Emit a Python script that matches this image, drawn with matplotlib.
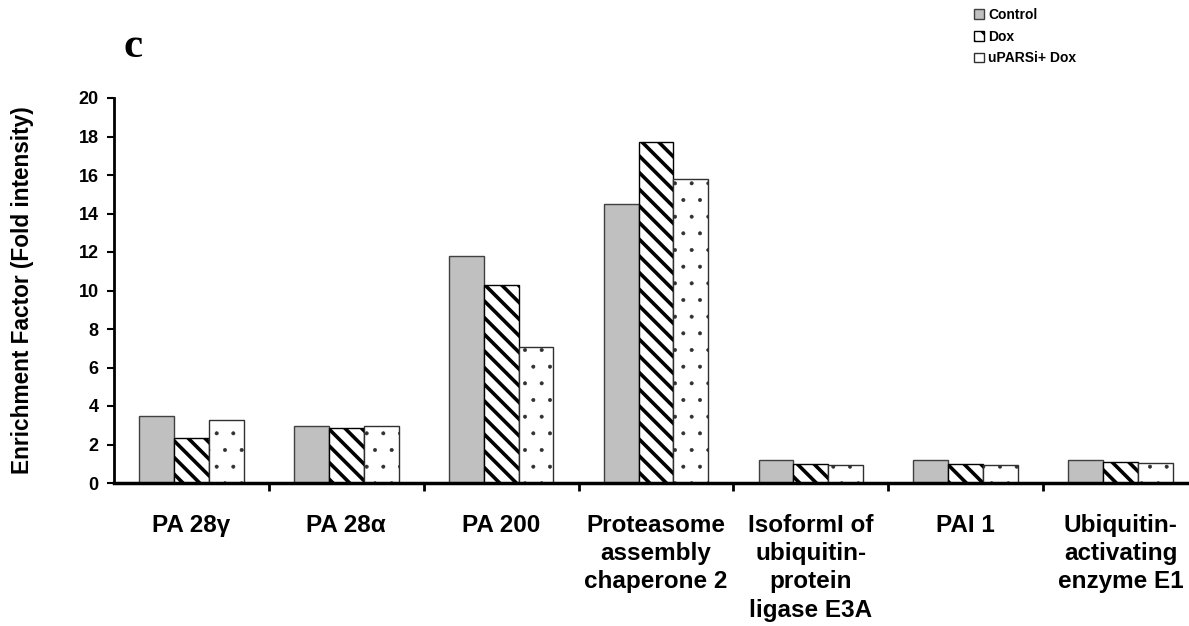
import numpy as np
import matplotlib.pyplot as plt

plt.rcParams['font.family'] = ['Liberation Sans', 'DejaVu Sans']
plt.rcParams['font.weight'] = 'bold'

# data
categories = ['PA 28\u03b3', 'PA 28\u03b1', 'PA 200',
              'Proteasome\nassembly\nchaperone 2',
              'IsoformI of\nubiquitin-\nprotein\nligase E3A',
              'PAI 1', 'Ubiquitin-\nactivating\nenzyme E1']
control = [3.5, 2.95, 11.8, 14.5, 1.2, 1.2, 1.2]
dox = [2.35, 2.85, 10.3, 17.7, 1.0, 1.0, 1.1]
upar_dox = [3.25, 2.95, 7.05, 15.8, 0.95, 0.95, 1.05]
series_names = ['Control', 'Dox', 'uPARSi+ Dox']
yticks = np.arange(0, 21, 2)

fig = plt.figure(figsize=(11.89, 6.26), dpi=100)
ax = fig.add_axes([114 / 1189, 1 - 483 / 626, 1084 / 1189, 385 / 626])

x = np.arange(len(categories))
w = 0.225


def hatched_bars(xs, vals, lw, **kw):
    # hatch linewidth is taken from rcParams when the patch is created
    with plt.rc_context({'hatch.linewidth': lw}):
        bars = ax.bar(xs, vals, w, **kw)
    for p in bars:
        if hasattr(p, 'set_hatch_linewidth'):
            p.set_hatch_linewidth(lw)
    return bars


b1 = ax.bar(x - w, control, w, color='#c0c0c0', edgecolor='#404040', linewidth=1)
b2 = hatched_bars(x, dox, 2.6, color='white', edgecolor='black', hatch='\\\\', linewidth=1)
b3 = hatched_bars(x + w, upar_dox, 0.4, color='white', edgecolor='#303030', hatch='.', linewidth=1)

ax.set_xlim(-0.5, len(categories) - 0.5)
ax.set_ylim(0, 20)
ax.set_yticks(yticks)
ax.set_yticklabels([str(v) for v in yticks], fontsize=13, fontweight='bold')
ax.set_xticks(x)
ax.set_xticklabels(categories, fontsize=17.5, fontweight='bold', linespacing=1.3,
                   va='top')
ax.tick_params(axis='x', length=0, pad=22)
ax.set_xticks(np.arange(0.5, len(categories) - 0.5), minor=True)
ax.tick_params(axis='x', which='minor', length=6, width=2, direction='out')
ax.tick_params(axis='y', length=5, width=1.5, direction='out', pad=6)

for s in ['top', 'right']:
    ax.spines[s].set_visible(False)
ax.spines['left'].set_linewidth(2)
ax.spines['bottom'].set_linewidth(2.5)

ax.set_ylabel('Enrichment Factor (Fold intensity)', fontsize=16.3, fontweight='bold',
              labelpad=32)

fig.text(0.104, 0.925, 'c', fontsize=31, fontweight='bold',
         family=['Liberation Serif', 'DejaVu Serif'], va='center')

with plt.rc_context({'hatch.linewidth': 1.5}):
    fig.legend([b1, b2, b3], series_names, loc='upper left',
               bbox_to_anchor=(0.81, 1.005), frameon=False, fontsize=10,
               handlelength=0.7, handleheight=0.7, handletextpad=0.3,
               labelspacing=0.55, borderpad=0.3)

fig.savefig('out.png', dpi=100)
